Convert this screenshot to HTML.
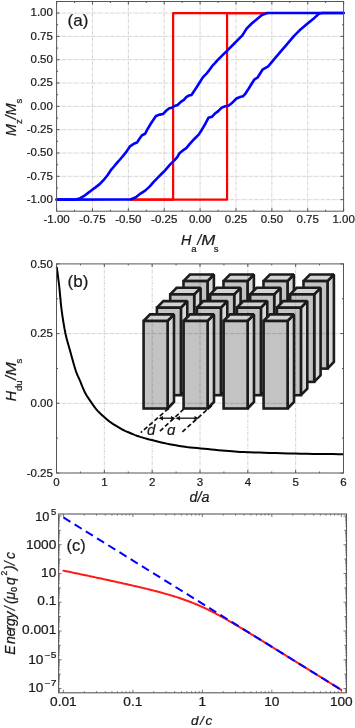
<!DOCTYPE html>
<html><head><meta charset="utf-8"><style>
html,body{margin:0;padding:0;background:#fff;width:355px;height:728px;overflow:hidden;}
svg{display:block;font-family:"Liberation Sans", sans-serif;will-change:transform;}
text{stroke:#1a1a1a;stroke-width:0.22px;}
</style></head><body>
<svg width="355" height="728" viewBox="0 0 355 728" font-family='"Liberation Sans", sans-serif' fill="#1a1a1a"><line x1="92.47" y1="1.50" x2="92.47" y2="211.20" stroke="#cbcbcb" stroke-width="0.9" stroke-dasharray="3,1,1,1"/>
<line x1="128.35" y1="1.50" x2="128.35" y2="211.20" stroke="#cbcbcb" stroke-width="0.9" stroke-dasharray="3,1,1,1"/>
<line x1="164.22" y1="1.50" x2="164.22" y2="211.20" stroke="#cbcbcb" stroke-width="0.9" stroke-dasharray="3,1,1,1"/>
<line x1="200.10" y1="1.50" x2="200.10" y2="211.20" stroke="#cbcbcb" stroke-width="0.9" stroke-dasharray="3,1,1,1"/>
<line x1="235.97" y1="1.50" x2="235.97" y2="211.20" stroke="#cbcbcb" stroke-width="0.9" stroke-dasharray="3,1,1,1"/>
<line x1="271.85" y1="1.50" x2="271.85" y2="211.20" stroke="#cbcbcb" stroke-width="0.9" stroke-dasharray="3,1,1,1"/>
<line x1="307.73" y1="1.50" x2="307.73" y2="211.20" stroke="#cbcbcb" stroke-width="0.9" stroke-dasharray="3,1,1,1"/>
<line x1="56.60" y1="199.65" x2="343.60" y2="199.65" stroke="#cbcbcb" stroke-width="0.9" stroke-dasharray="3,1,1,1"/>
<line x1="56.60" y1="176.32" x2="343.60" y2="176.32" stroke="#cbcbcb" stroke-width="0.9" stroke-dasharray="3,1,1,1"/>
<line x1="56.60" y1="153.00" x2="343.60" y2="153.00" stroke="#cbcbcb" stroke-width="0.9" stroke-dasharray="3,1,1,1"/>
<line x1="56.60" y1="129.67" x2="343.60" y2="129.67" stroke="#cbcbcb" stroke-width="0.9" stroke-dasharray="3,1,1,1"/>
<line x1="56.60" y1="106.35" x2="343.60" y2="106.35" stroke="#cbcbcb" stroke-width="0.9" stroke-dasharray="3,1,1,1"/>
<line x1="56.60" y1="83.02" x2="343.60" y2="83.02" stroke="#cbcbcb" stroke-width="0.9" stroke-dasharray="3,1,1,1"/>
<line x1="56.60" y1="59.70" x2="343.60" y2="59.70" stroke="#cbcbcb" stroke-width="0.9" stroke-dasharray="3,1,1,1"/>
<line x1="56.60" y1="36.38" x2="343.60" y2="36.38" stroke="#cbcbcb" stroke-width="0.9" stroke-dasharray="3,1,1,1"/>
<line x1="56.60" y1="13.05" x2="343.60" y2="13.05" stroke="#cbcbcb" stroke-width="0.9" stroke-dasharray="3,1,1,1"/>
<line x1="56.60" y1="211.20" x2="56.60" y2="208.20" stroke="#555555" stroke-width="1" />
<line x1="56.60" y1="1.50" x2="56.60" y2="4.50" stroke="#555555" stroke-width="1" />
<line x1="74.54" y1="211.20" x2="74.54" y2="209.70" stroke="#555555" stroke-width="1" />
<line x1="74.54" y1="1.50" x2="74.54" y2="3.00" stroke="#555555" stroke-width="1" />
<line x1="92.47" y1="211.20" x2="92.47" y2="208.20" stroke="#555555" stroke-width="1" />
<line x1="92.47" y1="1.50" x2="92.47" y2="4.50" stroke="#555555" stroke-width="1" />
<line x1="110.41" y1="211.20" x2="110.41" y2="209.70" stroke="#555555" stroke-width="1" />
<line x1="110.41" y1="1.50" x2="110.41" y2="3.00" stroke="#555555" stroke-width="1" />
<line x1="128.35" y1="211.20" x2="128.35" y2="208.20" stroke="#555555" stroke-width="1" />
<line x1="128.35" y1="1.50" x2="128.35" y2="4.50" stroke="#555555" stroke-width="1" />
<line x1="146.29" y1="211.20" x2="146.29" y2="209.70" stroke="#555555" stroke-width="1" />
<line x1="146.29" y1="1.50" x2="146.29" y2="3.00" stroke="#555555" stroke-width="1" />
<line x1="164.22" y1="211.20" x2="164.22" y2="208.20" stroke="#555555" stroke-width="1" />
<line x1="164.22" y1="1.50" x2="164.22" y2="4.50" stroke="#555555" stroke-width="1" />
<line x1="182.16" y1="211.20" x2="182.16" y2="209.70" stroke="#555555" stroke-width="1" />
<line x1="182.16" y1="1.50" x2="182.16" y2="3.00" stroke="#555555" stroke-width="1" />
<line x1="200.10" y1="211.20" x2="200.10" y2="208.20" stroke="#555555" stroke-width="1" />
<line x1="200.10" y1="1.50" x2="200.10" y2="4.50" stroke="#555555" stroke-width="1" />
<line x1="218.04" y1="211.20" x2="218.04" y2="209.70" stroke="#555555" stroke-width="1" />
<line x1="218.04" y1="1.50" x2="218.04" y2="3.00" stroke="#555555" stroke-width="1" />
<line x1="235.97" y1="211.20" x2="235.97" y2="208.20" stroke="#555555" stroke-width="1" />
<line x1="235.97" y1="1.50" x2="235.97" y2="4.50" stroke="#555555" stroke-width="1" />
<line x1="253.91" y1="211.20" x2="253.91" y2="209.70" stroke="#555555" stroke-width="1" />
<line x1="253.91" y1="1.50" x2="253.91" y2="3.00" stroke="#555555" stroke-width="1" />
<line x1="271.85" y1="211.20" x2="271.85" y2="208.20" stroke="#555555" stroke-width="1" />
<line x1="271.85" y1="1.50" x2="271.85" y2="4.50" stroke="#555555" stroke-width="1" />
<line x1="289.79" y1="211.20" x2="289.79" y2="209.70" stroke="#555555" stroke-width="1" />
<line x1="289.79" y1="1.50" x2="289.79" y2="3.00" stroke="#555555" stroke-width="1" />
<line x1="307.73" y1="211.20" x2="307.73" y2="208.20" stroke="#555555" stroke-width="1" />
<line x1="307.73" y1="1.50" x2="307.73" y2="4.50" stroke="#555555" stroke-width="1" />
<line x1="325.66" y1="211.20" x2="325.66" y2="209.70" stroke="#555555" stroke-width="1" />
<line x1="325.66" y1="1.50" x2="325.66" y2="3.00" stroke="#555555" stroke-width="1" />
<line x1="343.60" y1="211.20" x2="343.60" y2="208.20" stroke="#555555" stroke-width="1" />
<line x1="343.60" y1="1.50" x2="343.60" y2="4.50" stroke="#555555" stroke-width="1" />
<line x1="56.60" y1="199.65" x2="59.60" y2="199.65" stroke="#555555" stroke-width="1" />
<line x1="343.60" y1="199.65" x2="340.60" y2="199.65" stroke="#555555" stroke-width="1" />
<line x1="56.60" y1="187.99" x2="58.10" y2="187.99" stroke="#555555" stroke-width="1" />
<line x1="343.60" y1="187.99" x2="342.10" y2="187.99" stroke="#555555" stroke-width="1" />
<line x1="56.60" y1="176.32" x2="59.60" y2="176.32" stroke="#555555" stroke-width="1" />
<line x1="343.60" y1="176.32" x2="340.60" y2="176.32" stroke="#555555" stroke-width="1" />
<line x1="56.60" y1="164.66" x2="58.10" y2="164.66" stroke="#555555" stroke-width="1" />
<line x1="343.60" y1="164.66" x2="342.10" y2="164.66" stroke="#555555" stroke-width="1" />
<line x1="56.60" y1="153.00" x2="59.60" y2="153.00" stroke="#555555" stroke-width="1" />
<line x1="343.60" y1="153.00" x2="340.60" y2="153.00" stroke="#555555" stroke-width="1" />
<line x1="56.60" y1="141.34" x2="58.10" y2="141.34" stroke="#555555" stroke-width="1" />
<line x1="343.60" y1="141.34" x2="342.10" y2="141.34" stroke="#555555" stroke-width="1" />
<line x1="56.60" y1="129.67" x2="59.60" y2="129.67" stroke="#555555" stroke-width="1" />
<line x1="343.60" y1="129.67" x2="340.60" y2="129.67" stroke="#555555" stroke-width="1" />
<line x1="56.60" y1="118.01" x2="58.10" y2="118.01" stroke="#555555" stroke-width="1" />
<line x1="343.60" y1="118.01" x2="342.10" y2="118.01" stroke="#555555" stroke-width="1" />
<line x1="56.60" y1="106.35" x2="59.60" y2="106.35" stroke="#555555" stroke-width="1" />
<line x1="343.60" y1="106.35" x2="340.60" y2="106.35" stroke="#555555" stroke-width="1" />
<line x1="56.60" y1="94.69" x2="58.10" y2="94.69" stroke="#555555" stroke-width="1" />
<line x1="343.60" y1="94.69" x2="342.10" y2="94.69" stroke="#555555" stroke-width="1" />
<line x1="56.60" y1="83.02" x2="59.60" y2="83.02" stroke="#555555" stroke-width="1" />
<line x1="343.60" y1="83.02" x2="340.60" y2="83.02" stroke="#555555" stroke-width="1" />
<line x1="56.60" y1="71.36" x2="58.10" y2="71.36" stroke="#555555" stroke-width="1" />
<line x1="343.60" y1="71.36" x2="342.10" y2="71.36" stroke="#555555" stroke-width="1" />
<line x1="56.60" y1="59.70" x2="59.60" y2="59.70" stroke="#555555" stroke-width="1" />
<line x1="343.60" y1="59.70" x2="340.60" y2="59.70" stroke="#555555" stroke-width="1" />
<line x1="56.60" y1="48.04" x2="58.10" y2="48.04" stroke="#555555" stroke-width="1" />
<line x1="343.60" y1="48.04" x2="342.10" y2="48.04" stroke="#555555" stroke-width="1" />
<line x1="56.60" y1="36.38" x2="59.60" y2="36.38" stroke="#555555" stroke-width="1" />
<line x1="343.60" y1="36.38" x2="340.60" y2="36.38" stroke="#555555" stroke-width="1" />
<line x1="56.60" y1="24.71" x2="58.10" y2="24.71" stroke="#555555" stroke-width="1" />
<line x1="343.60" y1="24.71" x2="342.10" y2="24.71" stroke="#555555" stroke-width="1" />
<line x1="56.60" y1="13.05" x2="59.60" y2="13.05" stroke="#555555" stroke-width="1" />
<line x1="343.60" y1="13.05" x2="340.60" y2="13.05" stroke="#555555" stroke-width="1" />
<path d="M268.00,13.05 L173.12,13.05 L173.12,199.65 L131.00,199.65" fill="none" stroke="#ff0000" stroke-width="2.2" stroke-linejoin="round" stroke-linecap="round" />
<path d="M131.00,199.65 L227.08,199.65 L227.08,13.05 L268.00,13.05" fill="none" stroke="#ff0000" stroke-width="2.2" stroke-linejoin="round" stroke-linecap="round" />
<path d="M56.60,199.60 L76.00,199.60 L80.30,198.20 L83.70,196.20 L87.50,193.40 L91.60,190.30 L95.50,187.40 L99.40,184.40 L103.50,180.20 L107.30,175.50 L111.30,169.60 L114.00,166.50 L117.20,162.70 L120.00,159.50 L123.10,155.80 L126.50,151.60 L130.00,146.30 L133.80,143.80 L137.00,142.50 L139.50,138.70 L142.00,135.20 L145.20,133.70 L147.10,129.90 L150.90,123.50 L153.40,119.70 L156.00,115.90 L159.80,114.60 L163.00,114.00 L166.10,110.80 L169.30,108.30 L171.80,107.70 L173.80,106.30 L177.60,105.00 L180.80,101.80 L183.90,99.90 L186.50,96.80 L189.00,95.50 L191.50,94.90 L194.10,91.10 L196.60,87.20 L199.80,82.20 L203.00,77.10 L206.80,73.30 L209.30,70.10 L212.50,65.70 L215.00,63.20 L217.10,60.70 L222.10,55.60 L227.20,50.60 L232.30,45.50 L237.40,40.40 L242.40,35.40 L246.60,28.60 L251.70,23.50 L256.80,19.30 L261.90,15.10 L266.90,13.00 L270.00,13.00 L343.60,13.00" fill="none" stroke="#0000ff" stroke-width="2.6" stroke-linejoin="round" stroke-linecap="round" />
<path d="M56.60,199.60 L130.50,199.50 L135.90,197.30 L140.50,193.60 L145.20,190.60 L149.80,186.40 L153.70,181.80 L157.60,177.90 L161.40,174.00 L165.30,170.20 L170.00,164.70 L174.60,160.10 L177.30,157.20 L179.50,153.20 L182.90,150.40 L186.30,148.20 L189.60,144.20 L192.50,140.80 L195.80,137.50 L198.70,134.60 L200.90,131.30 L203.20,127.30 L205.50,123.50 L208.40,117.80 L211.90,116.80 L215.40,113.20 L218.20,111.10 L221.80,107.60 L225.30,106.20 L228.80,105.50 L232.30,102.70 L236.50,98.50 L240.10,97.00 L242.90,96.30 L245.00,94.20 L248.60,88.70 L254.20,79.70 L257.60,77.50 L262.50,69.70 L268.20,66.30 L273.80,59.60 L280.60,51.70 L287.30,43.80 L294.10,35.90 L300.80,29.20 L307.60,23.50 L314.40,17.90 L318.90,13.70 L322.00,13.00 L343.60,13.00" fill="none" stroke="#0000ff" stroke-width="2.6" stroke-linejoin="round" stroke-linecap="round" />
<rect x="56.6" y="1.5" width="287.0" height="209.7" fill="none" stroke="#555555" stroke-width="1"/>
<text x="52.90" y="16.45" font-size="11.5" text-anchor="end" >1.00</text>
<text x="52.90" y="39.77" font-size="11.5" text-anchor="end" >0.75</text>
<text x="52.90" y="63.10" font-size="11.5" text-anchor="end" >0.50</text>
<text x="52.90" y="86.42" font-size="11.5" text-anchor="end" >0.25</text>
<text x="52.90" y="109.75" font-size="11.5" text-anchor="end" >0.00</text>
<text x="52.90" y="133.07" font-size="11.5" text-anchor="end" >-0.25</text>
<text x="52.90" y="156.40" font-size="11.5" text-anchor="end" >-0.50</text>
<text x="52.90" y="179.72" font-size="11.5" text-anchor="end" >-0.75</text>
<text x="52.90" y="203.05" font-size="11.5" text-anchor="end" >-1.00</text>
<text x="56.60" y="222.60" font-size="11.5" text-anchor="middle" >-1.00</text>
<text x="92.47" y="222.60" font-size="11.5" text-anchor="middle" >-0.75</text>
<text x="128.35" y="222.60" font-size="11.5" text-anchor="middle" >-0.50</text>
<text x="164.22" y="222.60" font-size="11.5" text-anchor="middle" >-0.25</text>
<text x="200.10" y="222.60" font-size="11.5" text-anchor="middle" >0.00</text>
<text x="235.97" y="222.60" font-size="11.5" text-anchor="middle" >0.25</text>
<text x="271.85" y="222.60" font-size="11.5" text-anchor="middle" >0.50</text>
<text x="307.73" y="222.60" font-size="11.5" text-anchor="middle" >0.75</text>
<text x="343.60" y="222.60" font-size="11.5" text-anchor="middle" >1.00</text>
<text x="67.60" y="25.90" font-size="17" text-anchor="start" >(a)</text>
<text x="181" y="245.2" font-size="14.3" font-style="italic">H<tspan font-size="9.5" font-style="normal" dy="6.8">a</tspan><tspan dy="-6.8" dx="0.6">/</tspan><tspan textLength="14" lengthAdjust="spacingAndGlyphs">M</tspan><tspan font-size="9.5" font-style="normal" dy="6.8" dx="-1.4">s</tspan></text>
<text transform="translate(15.6,136) rotate(-90)" font-size="14.3" font-style="italic">M<tspan font-size="9.5" font-style="normal" dy="6.6">z</tspan><tspan dy="-6.6">/M</tspan><tspan font-size="9.5" font-style="normal" dy="6.6">s</tspan></text>
<polygon points="327.50,281.10 333.90,274.50 333.90,362.00 327.50,368.60" fill="#d6d6d6" stroke="#1c1c1c" stroke-width="2.6" stroke-linejoin="miter" stroke-miterlimit="1.5"/>
<polygon points="303.50,281.10 309.90,274.50 333.90,274.50 327.50,281.10" fill="#d3d3d3" stroke="#1c1c1c" stroke-width="2.6" stroke-linejoin="miter" stroke-miterlimit="1.5"/>
<rect x="303.50" y="281.10" width="24.0" height="87.5" fill="#c3c3c3" stroke="#1c1c1c" stroke-width="2.6"/>
<polygon points="287.50,281.10 293.90,274.50 293.90,362.00 287.50,368.60" fill="#d6d6d6" stroke="#1c1c1c" stroke-width="2.6" stroke-linejoin="miter" stroke-miterlimit="1.5"/>
<polygon points="263.50,281.10 269.90,274.50 293.90,274.50 287.50,281.10" fill="#d3d3d3" stroke="#1c1c1c" stroke-width="2.6" stroke-linejoin="miter" stroke-miterlimit="1.5"/>
<rect x="263.50" y="281.10" width="24.0" height="87.5" fill="#c3c3c3" stroke="#1c1c1c" stroke-width="2.6"/>
<polygon points="247.50,281.10 253.90,274.50 253.90,362.00 247.50,368.60" fill="#d6d6d6" stroke="#1c1c1c" stroke-width="2.6" stroke-linejoin="miter" stroke-miterlimit="1.5"/>
<polygon points="223.50,281.10 229.90,274.50 253.90,274.50 247.50,281.10" fill="#d3d3d3" stroke="#1c1c1c" stroke-width="2.6" stroke-linejoin="miter" stroke-miterlimit="1.5"/>
<rect x="223.50" y="281.10" width="24.0" height="87.5" fill="#c3c3c3" stroke="#1c1c1c" stroke-width="2.6"/>
<polygon points="207.50,281.10 213.90,274.50 213.90,362.00 207.50,368.60" fill="#d6d6d6" stroke="#1c1c1c" stroke-width="2.6" stroke-linejoin="miter" stroke-miterlimit="1.5"/>
<polygon points="183.50,281.10 189.90,274.50 213.90,274.50 207.50,281.10" fill="#d3d3d3" stroke="#1c1c1c" stroke-width="2.6" stroke-linejoin="miter" stroke-miterlimit="1.5"/>
<rect x="183.50" y="281.10" width="24.0" height="87.5" fill="#c3c3c3" stroke="#1c1c1c" stroke-width="2.6"/>
<polygon points="314.20,294.40 320.60,287.80 320.60,375.30 314.20,381.90" fill="#d6d6d6" stroke="#1c1c1c" stroke-width="2.6" stroke-linejoin="miter" stroke-miterlimit="1.5"/>
<polygon points="290.20,294.40 296.60,287.80 320.60,287.80 314.20,294.40" fill="#d3d3d3" stroke="#1c1c1c" stroke-width="2.6" stroke-linejoin="miter" stroke-miterlimit="1.5"/>
<rect x="290.20" y="294.40" width="24.0" height="87.5" fill="#c3c3c3" stroke="#1c1c1c" stroke-width="2.6"/>
<polygon points="274.20,294.40 280.60,287.80 280.60,375.30 274.20,381.90" fill="#d6d6d6" stroke="#1c1c1c" stroke-width="2.6" stroke-linejoin="miter" stroke-miterlimit="1.5"/>
<polygon points="250.20,294.40 256.60,287.80 280.60,287.80 274.20,294.40" fill="#d3d3d3" stroke="#1c1c1c" stroke-width="2.6" stroke-linejoin="miter" stroke-miterlimit="1.5"/>
<rect x="250.20" y="294.40" width="24.0" height="87.5" fill="#c3c3c3" stroke="#1c1c1c" stroke-width="2.6"/>
<polygon points="234.20,294.40 240.60,287.80 240.60,375.30 234.20,381.90" fill="#d6d6d6" stroke="#1c1c1c" stroke-width="2.6" stroke-linejoin="miter" stroke-miterlimit="1.5"/>
<polygon points="210.20,294.40 216.60,287.80 240.60,287.80 234.20,294.40" fill="#d3d3d3" stroke="#1c1c1c" stroke-width="2.6" stroke-linejoin="miter" stroke-miterlimit="1.5"/>
<rect x="210.20" y="294.40" width="24.0" height="87.5" fill="#c3c3c3" stroke="#1c1c1c" stroke-width="2.6"/>
<polygon points="194.20,294.40 200.60,287.80 200.60,375.30 194.20,381.90" fill="#d6d6d6" stroke="#1c1c1c" stroke-width="2.6" stroke-linejoin="miter" stroke-miterlimit="1.5"/>
<polygon points="170.20,294.40 176.60,287.80 200.60,287.80 194.20,294.40" fill="#d3d3d3" stroke="#1c1c1c" stroke-width="2.6" stroke-linejoin="miter" stroke-miterlimit="1.5"/>
<rect x="170.20" y="294.40" width="24.0" height="87.5" fill="#c3c3c3" stroke="#1c1c1c" stroke-width="2.6"/>
<polygon points="300.90,307.70 307.30,301.10 307.30,388.60 300.90,395.20" fill="#d6d6d6" stroke="#1c1c1c" stroke-width="2.6" stroke-linejoin="miter" stroke-miterlimit="1.5"/>
<polygon points="276.90,307.70 283.30,301.10 307.30,301.10 300.90,307.70" fill="#d3d3d3" stroke="#1c1c1c" stroke-width="2.6" stroke-linejoin="miter" stroke-miterlimit="1.5"/>
<rect x="276.90" y="307.70" width="24.0" height="87.5" fill="#c3c3c3" stroke="#1c1c1c" stroke-width="2.6"/>
<polygon points="260.90,307.70 267.30,301.10 267.30,388.60 260.90,395.20" fill="#d6d6d6" stroke="#1c1c1c" stroke-width="2.6" stroke-linejoin="miter" stroke-miterlimit="1.5"/>
<polygon points="236.90,307.70 243.30,301.10 267.30,301.10 260.90,307.70" fill="#d3d3d3" stroke="#1c1c1c" stroke-width="2.6" stroke-linejoin="miter" stroke-miterlimit="1.5"/>
<rect x="236.90" y="307.70" width="24.0" height="87.5" fill="#c3c3c3" stroke="#1c1c1c" stroke-width="2.6"/>
<polygon points="220.90,307.70 227.30,301.10 227.30,388.60 220.90,395.20" fill="#d6d6d6" stroke="#1c1c1c" stroke-width="2.6" stroke-linejoin="miter" stroke-miterlimit="1.5"/>
<polygon points="196.90,307.70 203.30,301.10 227.30,301.10 220.90,307.70" fill="#d3d3d3" stroke="#1c1c1c" stroke-width="2.6" stroke-linejoin="miter" stroke-miterlimit="1.5"/>
<rect x="196.90" y="307.70" width="24.0" height="87.5" fill="#c3c3c3" stroke="#1c1c1c" stroke-width="2.6"/>
<polygon points="180.90,307.70 187.30,301.10 187.30,388.60 180.90,395.20" fill="#d6d6d6" stroke="#1c1c1c" stroke-width="2.6" stroke-linejoin="miter" stroke-miterlimit="1.5"/>
<polygon points="156.90,307.70 163.30,301.10 187.30,301.10 180.90,307.70" fill="#d3d3d3" stroke="#1c1c1c" stroke-width="2.6" stroke-linejoin="miter" stroke-miterlimit="1.5"/>
<rect x="156.90" y="307.70" width="24.0" height="87.5" fill="#c3c3c3" stroke="#1c1c1c" stroke-width="2.6"/>
<polygon points="287.60,321.00 294.00,314.40 294.00,401.90 287.60,408.50" fill="#d6d6d6" stroke="#1c1c1c" stroke-width="2.6" stroke-linejoin="miter" stroke-miterlimit="1.5"/>
<polygon points="263.60,321.00 270.00,314.40 294.00,314.40 287.60,321.00" fill="#d3d3d3" stroke="#1c1c1c" stroke-width="2.6" stroke-linejoin="miter" stroke-miterlimit="1.5"/>
<rect x="263.60" y="321.00" width="24.0" height="87.5" fill="#c3c3c3" stroke="#1c1c1c" stroke-width="2.6"/>
<polygon points="247.60,321.00 254.00,314.40 254.00,401.90 247.60,408.50" fill="#d6d6d6" stroke="#1c1c1c" stroke-width="2.6" stroke-linejoin="miter" stroke-miterlimit="1.5"/>
<polygon points="223.60,321.00 230.00,314.40 254.00,314.40 247.60,321.00" fill="#d3d3d3" stroke="#1c1c1c" stroke-width="2.6" stroke-linejoin="miter" stroke-miterlimit="1.5"/>
<rect x="223.60" y="321.00" width="24.0" height="87.5" fill="#c3c3c3" stroke="#1c1c1c" stroke-width="2.6"/>
<polygon points="207.60,321.00 214.00,314.40 214.00,401.90 207.60,408.50" fill="#d6d6d6" stroke="#1c1c1c" stroke-width="2.6" stroke-linejoin="miter" stroke-miterlimit="1.5"/>
<polygon points="183.60,321.00 190.00,314.40 214.00,314.40 207.60,321.00" fill="#d3d3d3" stroke="#1c1c1c" stroke-width="2.6" stroke-linejoin="miter" stroke-miterlimit="1.5"/>
<rect x="183.60" y="321.00" width="24.0" height="87.5" fill="#c3c3c3" stroke="#1c1c1c" stroke-width="2.6"/>
<polygon points="167.60,321.00 174.00,314.40 174.00,401.90 167.60,408.50" fill="#d6d6d6" stroke="#1c1c1c" stroke-width="2.6" stroke-linejoin="miter" stroke-miterlimit="1.5"/>
<polygon points="143.60,321.00 150.00,314.40 174.00,314.40 167.60,321.00" fill="#d3d3d3" stroke="#1c1c1c" stroke-width="2.6" stroke-linejoin="miter" stroke-miterlimit="1.5"/>
<rect x="143.60" y="321.00" width="24.0" height="87.5" fill="#c3c3c3" stroke="#1c1c1c" stroke-width="2.6"/>
<line x1="104.33" y1="263.90" x2="104.33" y2="473.00" stroke="#cbcbcb" stroke-width="0.9" stroke-dasharray="3,1,1,1" style="mix-blend-mode:multiply"/>
<line x1="152.17" y1="263.90" x2="152.17" y2="473.00" stroke="#cbcbcb" stroke-width="0.9" stroke-dasharray="3,1,1,1" style="mix-blend-mode:multiply"/>
<line x1="200.00" y1="263.90" x2="200.00" y2="473.00" stroke="#cbcbcb" stroke-width="0.9" stroke-dasharray="3,1,1,1" style="mix-blend-mode:multiply"/>
<line x1="247.83" y1="263.90" x2="247.83" y2="473.00" stroke="#cbcbcb" stroke-width="0.9" stroke-dasharray="3,1,1,1" style="mix-blend-mode:multiply"/>
<line x1="295.67" y1="263.90" x2="295.67" y2="473.00" stroke="#cbcbcb" stroke-width="0.9" stroke-dasharray="3,1,1,1" style="mix-blend-mode:multiply"/>
<line x1="56.50" y1="333.60" x2="343.50" y2="333.60" stroke="#cbcbcb" stroke-width="0.9" stroke-dasharray="3,1,1,1" style="mix-blend-mode:multiply"/>
<line x1="56.50" y1="403.30" x2="343.50" y2="403.30" stroke="#cbcbcb" stroke-width="0.9" stroke-dasharray="3,1,1,1" style="mix-blend-mode:multiply"/>
<line x1="56.50" y1="473.00" x2="56.50" y2="470.00" stroke="#555555" stroke-width="1" />
<line x1="56.50" y1="263.90" x2="56.50" y2="266.90" stroke="#555555" stroke-width="1" />
<line x1="80.42" y1="473.00" x2="80.42" y2="471.50" stroke="#555555" stroke-width="1" />
<line x1="80.42" y1="263.90" x2="80.42" y2="265.40" stroke="#555555" stroke-width="1" />
<line x1="104.33" y1="473.00" x2="104.33" y2="470.00" stroke="#555555" stroke-width="1" />
<line x1="104.33" y1="263.90" x2="104.33" y2="266.90" stroke="#555555" stroke-width="1" />
<line x1="128.25" y1="473.00" x2="128.25" y2="471.50" stroke="#555555" stroke-width="1" />
<line x1="128.25" y1="263.90" x2="128.25" y2="265.40" stroke="#555555" stroke-width="1" />
<line x1="152.17" y1="473.00" x2="152.17" y2="470.00" stroke="#555555" stroke-width="1" />
<line x1="152.17" y1="263.90" x2="152.17" y2="266.90" stroke="#555555" stroke-width="1" />
<line x1="176.08" y1="473.00" x2="176.08" y2="471.50" stroke="#555555" stroke-width="1" />
<line x1="176.08" y1="263.90" x2="176.08" y2="265.40" stroke="#555555" stroke-width="1" />
<line x1="200.00" y1="473.00" x2="200.00" y2="470.00" stroke="#555555" stroke-width="1" />
<line x1="200.00" y1="263.90" x2="200.00" y2="266.90" stroke="#555555" stroke-width="1" />
<line x1="223.92" y1="473.00" x2="223.92" y2="471.50" stroke="#555555" stroke-width="1" />
<line x1="223.92" y1="263.90" x2="223.92" y2="265.40" stroke="#555555" stroke-width="1" />
<line x1="247.83" y1="473.00" x2="247.83" y2="470.00" stroke="#555555" stroke-width="1" />
<line x1="247.83" y1="263.90" x2="247.83" y2="266.90" stroke="#555555" stroke-width="1" />
<line x1="271.75" y1="473.00" x2="271.75" y2="471.50" stroke="#555555" stroke-width="1" />
<line x1="271.75" y1="263.90" x2="271.75" y2="265.40" stroke="#555555" stroke-width="1" />
<line x1="295.67" y1="473.00" x2="295.67" y2="470.00" stroke="#555555" stroke-width="1" />
<line x1="295.67" y1="263.90" x2="295.67" y2="266.90" stroke="#555555" stroke-width="1" />
<line x1="319.58" y1="473.00" x2="319.58" y2="471.50" stroke="#555555" stroke-width="1" />
<line x1="319.58" y1="263.90" x2="319.58" y2="265.40" stroke="#555555" stroke-width="1" />
<line x1="343.50" y1="473.00" x2="343.50" y2="470.00" stroke="#555555" stroke-width="1" />
<line x1="343.50" y1="263.90" x2="343.50" y2="266.90" stroke="#555555" stroke-width="1" />
<line x1="56.50" y1="263.90" x2="59.50" y2="263.90" stroke="#555555" stroke-width="1" />
<line x1="343.50" y1="263.90" x2="340.50" y2="263.90" stroke="#555555" stroke-width="1" />
<line x1="56.50" y1="298.75" x2="58.00" y2="298.75" stroke="#555555" stroke-width="1" />
<line x1="343.50" y1="298.75" x2="342.00" y2="298.75" stroke="#555555" stroke-width="1" />
<line x1="56.50" y1="333.60" x2="59.50" y2="333.60" stroke="#555555" stroke-width="1" />
<line x1="343.50" y1="333.60" x2="340.50" y2="333.60" stroke="#555555" stroke-width="1" />
<line x1="56.50" y1="368.45" x2="58.00" y2="368.45" stroke="#555555" stroke-width="1" />
<line x1="343.50" y1="368.45" x2="342.00" y2="368.45" stroke="#555555" stroke-width="1" />
<line x1="56.50" y1="403.30" x2="59.50" y2="403.30" stroke="#555555" stroke-width="1" />
<line x1="343.50" y1="403.30" x2="340.50" y2="403.30" stroke="#555555" stroke-width="1" />
<line x1="56.50" y1="438.15" x2="58.00" y2="438.15" stroke="#555555" stroke-width="1" />
<line x1="343.50" y1="438.15" x2="342.00" y2="438.15" stroke="#555555" stroke-width="1" />
<line x1="56.50" y1="473.00" x2="59.50" y2="473.00" stroke="#555555" stroke-width="1" />
<line x1="343.50" y1="473.00" x2="340.50" y2="473.00" stroke="#555555" stroke-width="1" />
<line x1="168.50" y1="408.50" x2="140.80" y2="432.60" stroke="#111" stroke-width="1.7" stroke-dasharray="4.5,2.5"/>
<line x1="183.80" y1="409.00" x2="158.30" y2="432.60" stroke="#111" stroke-width="1.7" stroke-dasharray="4.5,2.5"/>
<line x1="211.80" y1="405.50" x2="181.50" y2="432.60" stroke="#111" stroke-width="1.7" stroke-dasharray="4.5,2.5"/>
<line x1="160.50" y1="418.20" x2="173.50" y2="418.20" stroke="#111" stroke-width="1.3" />
<polygon points="158.50,418.20 163.00,416.00 163.00,420.40" fill="#111"/>
<polygon points="175.50,418.20 171.00,416.00 171.00,420.40" fill="#111"/>
<line x1="177.50" y1="418.20" x2="197.00" y2="418.20" stroke="#111" stroke-width="1.3" />
<polygon points="175.50,418.20 180.00,416.00 180.00,420.40" fill="#111"/>
<polygon points="199.00,418.20 194.50,416.00 194.50,420.40" fill="#111"/>
<text x="147.0" y="435.0" font-size="15" font-style="italic">d</text>
<text x="167.0" y="435.0" font-size="15" font-style="italic">&#593;</text>
<path d="M56.80,267.50 L57.23,270.70 L57.85,275.25 L58.54,280.55 L59.20,286.00 L59.76,291.62 L60.31,297.68 L60.89,303.89 L61.60,310.00 L62.44,316.07 L63.39,322.19 L64.41,328.14 L65.50,333.70 L66.67,338.71 L67.91,343.32 L69.20,347.78 L70.50,352.30 L71.84,357.15 L73.23,362.15 L74.57,366.85 L75.80,370.80 L76.86,373.73 L77.82,375.93 L78.71,377.81 L79.60,379.80 L80.49,381.99 L81.34,384.16 L82.18,386.25 L83.00,388.20 L83.76,389.93 L84.48,391.50 L85.23,393.02 L86.10,394.60 L87.10,396.25 L88.19,397.91 L89.36,399.61 L90.60,401.40 L91.92,403.33 L93.31,405.36 L94.78,407.38 L96.30,409.30 L97.90,411.08 L99.58,412.79 L101.29,414.42 L103.00,416.00 L104.69,417.52 L106.39,418.99 L108.10,420.38 L109.80,421.70 L111.50,422.93 L113.21,424.07 L114.91,425.15 L116.60,426.20 L118.28,427.22 L119.95,428.19 L121.62,429.12 L123.30,430.00 L125.00,430.81 L126.70,431.57 L128.40,432.29 L130.10,433.00 L131.78,433.71 L133.45,434.40 L135.12,435.07 L136.80,435.70 L138.49,436.29 L140.19,436.86 L141.90,437.39 L143.60,437.90 L145.20,438.35 L146.74,438.76 L148.41,439.19 L150.40,439.70 L152.83,440.34 L155.58,441.07 L158.46,441.82 L161.30,442.50 L164.01,443.09 L166.70,443.63 L169.49,444.16 L172.50,444.70 L175.82,445.29 L179.37,445.90 L183.01,446.49 L186.60,447.00 L190.12,447.41 L193.65,447.76 L197.17,448.07 L200.70,448.40 L204.22,448.75 L207.75,449.11 L211.28,449.46 L214.80,449.80 L218.39,450.14 L222.03,450.49 L225.58,450.81 L228.90,451.10 L231.93,451.34 L234.76,451.56 L237.46,451.74 L240.10,451.90 L242.43,452.02 L244.51,452.11 L246.86,452.20 L250.00,452.30 L254.14,452.43 L258.97,452.58 L264.27,452.74 L269.80,452.90 L275.65,453.07 L281.89,453.26 L288.28,453.44 L294.60,453.60 L300.84,453.73 L307.10,453.83 L313.31,453.92 L319.40,454.00 L325.86,454.07 L332.55,454.12 L338.47,454.17 L342.60,454.20" fill="none" stroke="#000" stroke-width="2.0" stroke-linejoin="round" stroke-linecap="round" />
<rect x="56.5" y="263.9" width="287.0" height="209.10000000000002" fill="none" stroke="#555555" stroke-width="1"/>
<text x="52.90" y="267.70" font-size="11.5" text-anchor="end" >0.50</text>
<text x="52.90" y="337.40" font-size="11.5" text-anchor="end" >0.25</text>
<text x="52.90" y="407.10" font-size="11.5" text-anchor="end" >0.00</text>
<text x="52.90" y="476.80" font-size="11.5" text-anchor="end" >-0.25</text>
<text x="56.50" y="486.40" font-size="11.5" text-anchor="middle" >0</text>
<text x="104.33" y="486.40" font-size="11.5" text-anchor="middle" >1</text>
<text x="152.17" y="486.40" font-size="11.5" text-anchor="middle" >2</text>
<text x="200.00" y="486.40" font-size="11.5" text-anchor="middle" >3</text>
<text x="247.83" y="486.40" font-size="11.5" text-anchor="middle" >4</text>
<text x="295.67" y="486.40" font-size="11.5" text-anchor="middle" >5</text>
<text x="343.50" y="486.40" font-size="11.5" text-anchor="middle" >6</text>
<text x="67.60" y="287.00" font-size="17" text-anchor="start" >(b)</text>
<text x="189.6" y="502.4" font-size="14.3" font-style="italic">d/a</text>
<text transform="translate(15.6,401.3) rotate(-90)" font-size="14.3" font-style="italic">H<tspan font-size="9.5" font-style="normal" dy="6.6">du</tspan><tspan dy="-6.6" dx="0.6">/</tspan><tspan textLength="13.6" lengthAdjust="spacingAndGlyphs">M</tspan><tspan font-size="9.5" font-style="normal" dy="6.6" dx="-1.2">s</tspan></text>
<line x1="63.39" y1="692.80" x2="63.39" y2="689.80" stroke="#555" stroke-width="0.8" />
<line x1="63.39" y1="514.00" x2="63.39" y2="517.00" stroke="#555" stroke-width="0.8" />
<line x1="84.31" y1="692.80" x2="84.31" y2="691.20" stroke="#555" stroke-width="0.8" />
<line x1="84.31" y1="514.00" x2="84.31" y2="515.60" stroke="#555" stroke-width="0.8" />
<line x1="96.54" y1="692.80" x2="96.54" y2="691.20" stroke="#555" stroke-width="0.8" />
<line x1="96.54" y1="514.00" x2="96.54" y2="515.60" stroke="#555" stroke-width="0.8" />
<line x1="105.22" y1="692.80" x2="105.22" y2="691.20" stroke="#555" stroke-width="0.8" />
<line x1="105.22" y1="514.00" x2="105.22" y2="515.60" stroke="#555" stroke-width="0.8" />
<line x1="111.95" y1="692.80" x2="111.95" y2="691.20" stroke="#555" stroke-width="0.8" />
<line x1="111.95" y1="514.00" x2="111.95" y2="515.60" stroke="#555" stroke-width="0.8" />
<line x1="117.46" y1="692.80" x2="117.46" y2="691.20" stroke="#555" stroke-width="0.8" />
<line x1="117.46" y1="514.00" x2="117.46" y2="515.60" stroke="#555" stroke-width="0.8" />
<line x1="122.11" y1="692.80" x2="122.11" y2="691.20" stroke="#555" stroke-width="0.8" />
<line x1="122.11" y1="514.00" x2="122.11" y2="515.60" stroke="#555" stroke-width="0.8" />
<line x1="126.14" y1="692.80" x2="126.14" y2="691.20" stroke="#555" stroke-width="0.8" />
<line x1="126.14" y1="514.00" x2="126.14" y2="515.60" stroke="#555" stroke-width="0.8" />
<line x1="129.69" y1="692.80" x2="129.69" y2="691.20" stroke="#555" stroke-width="0.8" />
<line x1="129.69" y1="514.00" x2="129.69" y2="515.60" stroke="#555" stroke-width="0.8" />
<line x1="132.87" y1="692.80" x2="132.87" y2="689.80" stroke="#555" stroke-width="0.8" />
<line x1="132.87" y1="514.00" x2="132.87" y2="517.00" stroke="#555" stroke-width="0.8" />
<line x1="153.79" y1="692.80" x2="153.79" y2="691.20" stroke="#555" stroke-width="0.8" />
<line x1="153.79" y1="514.00" x2="153.79" y2="515.60" stroke="#555" stroke-width="0.8" />
<line x1="166.02" y1="692.80" x2="166.02" y2="691.20" stroke="#555" stroke-width="0.8" />
<line x1="166.02" y1="514.00" x2="166.02" y2="515.60" stroke="#555" stroke-width="0.8" />
<line x1="174.70" y1="692.80" x2="174.70" y2="691.20" stroke="#555" stroke-width="0.8" />
<line x1="174.70" y1="514.00" x2="174.70" y2="515.60" stroke="#555" stroke-width="0.8" />
<line x1="181.43" y1="692.80" x2="181.43" y2="691.20" stroke="#555" stroke-width="0.8" />
<line x1="181.43" y1="514.00" x2="181.43" y2="515.60" stroke="#555" stroke-width="0.8" />
<line x1="186.94" y1="692.80" x2="186.94" y2="691.20" stroke="#555" stroke-width="0.8" />
<line x1="186.94" y1="514.00" x2="186.94" y2="515.60" stroke="#555" stroke-width="0.8" />
<line x1="191.59" y1="692.80" x2="191.59" y2="691.20" stroke="#555" stroke-width="0.8" />
<line x1="191.59" y1="514.00" x2="191.59" y2="515.60" stroke="#555" stroke-width="0.8" />
<line x1="195.62" y1="692.80" x2="195.62" y2="691.20" stroke="#555" stroke-width="0.8" />
<line x1="195.62" y1="514.00" x2="195.62" y2="515.60" stroke="#555" stroke-width="0.8" />
<line x1="199.17" y1="692.80" x2="199.17" y2="691.20" stroke="#555" stroke-width="0.8" />
<line x1="199.17" y1="514.00" x2="199.17" y2="515.60" stroke="#555" stroke-width="0.8" />
<line x1="202.35" y1="692.80" x2="202.35" y2="689.80" stroke="#555" stroke-width="0.8" />
<line x1="202.35" y1="514.00" x2="202.35" y2="517.00" stroke="#555" stroke-width="0.8" />
<line x1="223.27" y1="692.80" x2="223.27" y2="691.20" stroke="#555" stroke-width="0.8" />
<line x1="223.27" y1="514.00" x2="223.27" y2="515.60" stroke="#555" stroke-width="0.8" />
<line x1="235.50" y1="692.80" x2="235.50" y2="691.20" stroke="#555" stroke-width="0.8" />
<line x1="235.50" y1="514.00" x2="235.50" y2="515.60" stroke="#555" stroke-width="0.8" />
<line x1="244.18" y1="692.80" x2="244.18" y2="691.20" stroke="#555" stroke-width="0.8" />
<line x1="244.18" y1="514.00" x2="244.18" y2="515.60" stroke="#555" stroke-width="0.8" />
<line x1="250.91" y1="692.80" x2="250.91" y2="691.20" stroke="#555" stroke-width="0.8" />
<line x1="250.91" y1="514.00" x2="250.91" y2="515.60" stroke="#555" stroke-width="0.8" />
<line x1="256.42" y1="692.80" x2="256.42" y2="691.20" stroke="#555" stroke-width="0.8" />
<line x1="256.42" y1="514.00" x2="256.42" y2="515.60" stroke="#555" stroke-width="0.8" />
<line x1="261.07" y1="692.80" x2="261.07" y2="691.20" stroke="#555" stroke-width="0.8" />
<line x1="261.07" y1="514.00" x2="261.07" y2="515.60" stroke="#555" stroke-width="0.8" />
<line x1="265.10" y1="692.80" x2="265.10" y2="691.20" stroke="#555" stroke-width="0.8" />
<line x1="265.10" y1="514.00" x2="265.10" y2="515.60" stroke="#555" stroke-width="0.8" />
<line x1="268.65" y1="692.80" x2="268.65" y2="691.20" stroke="#555" stroke-width="0.8" />
<line x1="268.65" y1="514.00" x2="268.65" y2="515.60" stroke="#555" stroke-width="0.8" />
<line x1="271.83" y1="692.80" x2="271.83" y2="689.80" stroke="#555" stroke-width="0.8" />
<line x1="271.83" y1="514.00" x2="271.83" y2="517.00" stroke="#555" stroke-width="0.8" />
<line x1="292.75" y1="692.80" x2="292.75" y2="691.20" stroke="#555" stroke-width="0.8" />
<line x1="292.75" y1="514.00" x2="292.75" y2="515.60" stroke="#555" stroke-width="0.8" />
<line x1="304.98" y1="692.80" x2="304.98" y2="691.20" stroke="#555" stroke-width="0.8" />
<line x1="304.98" y1="514.00" x2="304.98" y2="515.60" stroke="#555" stroke-width="0.8" />
<line x1="313.66" y1="692.80" x2="313.66" y2="691.20" stroke="#555" stroke-width="0.8" />
<line x1="313.66" y1="514.00" x2="313.66" y2="515.60" stroke="#555" stroke-width="0.8" />
<line x1="320.39" y1="692.80" x2="320.39" y2="691.20" stroke="#555" stroke-width="0.8" />
<line x1="320.39" y1="514.00" x2="320.39" y2="515.60" stroke="#555" stroke-width="0.8" />
<line x1="325.90" y1="692.80" x2="325.90" y2="691.20" stroke="#555" stroke-width="0.8" />
<line x1="325.90" y1="514.00" x2="325.90" y2="515.60" stroke="#555" stroke-width="0.8" />
<line x1="330.55" y1="692.80" x2="330.55" y2="691.20" stroke="#555" stroke-width="0.8" />
<line x1="330.55" y1="514.00" x2="330.55" y2="515.60" stroke="#555" stroke-width="0.8" />
<line x1="334.58" y1="692.80" x2="334.58" y2="691.20" stroke="#555" stroke-width="0.8" />
<line x1="334.58" y1="514.00" x2="334.58" y2="515.60" stroke="#555" stroke-width="0.8" />
<line x1="338.13" y1="692.80" x2="338.13" y2="691.20" stroke="#555" stroke-width="0.8" />
<line x1="338.13" y1="514.00" x2="338.13" y2="515.60" stroke="#555" stroke-width="0.8" />
<line x1="341.31" y1="692.80" x2="341.31" y2="689.80" stroke="#555" stroke-width="0.8" />
<line x1="341.31" y1="514.00" x2="341.31" y2="517.00" stroke="#555" stroke-width="0.8" />
<line x1="58.60" y1="691.66" x2="59.80" y2="691.66" stroke="#555" stroke-width="0.8" />
<line x1="346.50" y1="691.66" x2="345.30" y2="691.66" stroke="#555" stroke-width="0.8" />
<line x1="58.60" y1="690.70" x2="59.80" y2="690.70" stroke="#555" stroke-width="0.8" />
<line x1="346.50" y1="690.70" x2="345.30" y2="690.70" stroke="#555" stroke-width="0.8" />
<line x1="58.60" y1="689.87" x2="59.80" y2="689.87" stroke="#555" stroke-width="0.8" />
<line x1="346.50" y1="689.87" x2="345.30" y2="689.87" stroke="#555" stroke-width="0.8" />
<line x1="58.60" y1="689.13" x2="59.80" y2="689.13" stroke="#555" stroke-width="0.8" />
<line x1="346.50" y1="689.13" x2="345.30" y2="689.13" stroke="#555" stroke-width="0.8" />
<line x1="58.60" y1="688.48" x2="61.60" y2="688.48" stroke="#555" stroke-width="0.8" />
<line x1="346.50" y1="688.48" x2="343.50" y2="688.48" stroke="#555" stroke-width="0.8" />
<line x1="58.60" y1="684.15" x2="59.80" y2="684.15" stroke="#555" stroke-width="0.8" />
<line x1="346.50" y1="684.15" x2="345.30" y2="684.15" stroke="#555" stroke-width="0.8" />
<line x1="58.60" y1="681.62" x2="59.80" y2="681.62" stroke="#555" stroke-width="0.8" />
<line x1="346.50" y1="681.62" x2="345.30" y2="681.62" stroke="#555" stroke-width="0.8" />
<line x1="58.60" y1="679.82" x2="59.80" y2="679.82" stroke="#555" stroke-width="0.8" />
<line x1="346.50" y1="679.82" x2="345.30" y2="679.82" stroke="#555" stroke-width="0.8" />
<line x1="58.60" y1="678.43" x2="59.80" y2="678.43" stroke="#555" stroke-width="0.8" />
<line x1="346.50" y1="678.43" x2="345.30" y2="678.43" stroke="#555" stroke-width="0.8" />
<line x1="58.60" y1="677.29" x2="59.80" y2="677.29" stroke="#555" stroke-width="0.8" />
<line x1="346.50" y1="677.29" x2="345.30" y2="677.29" stroke="#555" stroke-width="0.8" />
<line x1="58.60" y1="676.33" x2="59.80" y2="676.33" stroke="#555" stroke-width="0.8" />
<line x1="346.50" y1="676.33" x2="345.30" y2="676.33" stroke="#555" stroke-width="0.8" />
<line x1="58.60" y1="675.49" x2="59.80" y2="675.49" stroke="#555" stroke-width="0.8" />
<line x1="346.50" y1="675.49" x2="345.30" y2="675.49" stroke="#555" stroke-width="0.8" />
<line x1="58.60" y1="674.76" x2="59.80" y2="674.76" stroke="#555" stroke-width="0.8" />
<line x1="346.50" y1="674.76" x2="345.30" y2="674.76" stroke="#555" stroke-width="0.8" />
<line x1="58.60" y1="674.10" x2="60.80" y2="674.10" stroke="#555" stroke-width="0.8" />
<line x1="346.50" y1="674.10" x2="344.30" y2="674.10" stroke="#555" stroke-width="0.8" />
<line x1="58.60" y1="669.77" x2="59.80" y2="669.77" stroke="#555" stroke-width="0.8" />
<line x1="346.50" y1="669.77" x2="345.30" y2="669.77" stroke="#555" stroke-width="0.8" />
<line x1="58.60" y1="667.24" x2="59.80" y2="667.24" stroke="#555" stroke-width="0.8" />
<line x1="346.50" y1="667.24" x2="345.30" y2="667.24" stroke="#555" stroke-width="0.8" />
<line x1="58.60" y1="665.45" x2="59.80" y2="665.45" stroke="#555" stroke-width="0.8" />
<line x1="346.50" y1="665.45" x2="345.30" y2="665.45" stroke="#555" stroke-width="0.8" />
<line x1="58.60" y1="664.05" x2="59.80" y2="664.05" stroke="#555" stroke-width="0.8" />
<line x1="346.50" y1="664.05" x2="345.30" y2="664.05" stroke="#555" stroke-width="0.8" />
<line x1="58.60" y1="662.91" x2="59.80" y2="662.91" stroke="#555" stroke-width="0.8" />
<line x1="346.50" y1="662.91" x2="345.30" y2="662.91" stroke="#555" stroke-width="0.8" />
<line x1="58.60" y1="661.95" x2="59.80" y2="661.95" stroke="#555" stroke-width="0.8" />
<line x1="346.50" y1="661.95" x2="345.30" y2="661.95" stroke="#555" stroke-width="0.8" />
<line x1="58.60" y1="661.12" x2="59.80" y2="661.12" stroke="#555" stroke-width="0.8" />
<line x1="346.50" y1="661.12" x2="345.30" y2="661.12" stroke="#555" stroke-width="0.8" />
<line x1="58.60" y1="660.38" x2="59.80" y2="660.38" stroke="#555" stroke-width="0.8" />
<line x1="346.50" y1="660.38" x2="345.30" y2="660.38" stroke="#555" stroke-width="0.8" />
<line x1="58.60" y1="659.73" x2="61.60" y2="659.73" stroke="#555" stroke-width="0.8" />
<line x1="346.50" y1="659.73" x2="343.50" y2="659.73" stroke="#555" stroke-width="0.8" />
<line x1="58.60" y1="655.40" x2="59.80" y2="655.40" stroke="#555" stroke-width="0.8" />
<line x1="346.50" y1="655.40" x2="345.30" y2="655.40" stroke="#555" stroke-width="0.8" />
<line x1="58.60" y1="652.87" x2="59.80" y2="652.87" stroke="#555" stroke-width="0.8" />
<line x1="346.50" y1="652.87" x2="345.30" y2="652.87" stroke="#555" stroke-width="0.8" />
<line x1="58.60" y1="651.07" x2="59.80" y2="651.07" stroke="#555" stroke-width="0.8" />
<line x1="346.50" y1="651.07" x2="345.30" y2="651.07" stroke="#555" stroke-width="0.8" />
<line x1="58.60" y1="649.68" x2="59.80" y2="649.68" stroke="#555" stroke-width="0.8" />
<line x1="346.50" y1="649.68" x2="345.30" y2="649.68" stroke="#555" stroke-width="0.8" />
<line x1="58.60" y1="648.54" x2="59.80" y2="648.54" stroke="#555" stroke-width="0.8" />
<line x1="346.50" y1="648.54" x2="345.30" y2="648.54" stroke="#555" stroke-width="0.8" />
<line x1="58.60" y1="647.58" x2="59.80" y2="647.58" stroke="#555" stroke-width="0.8" />
<line x1="346.50" y1="647.58" x2="345.30" y2="647.58" stroke="#555" stroke-width="0.8" />
<line x1="58.60" y1="646.74" x2="59.80" y2="646.74" stroke="#555" stroke-width="0.8" />
<line x1="346.50" y1="646.74" x2="345.30" y2="646.74" stroke="#555" stroke-width="0.8" />
<line x1="58.60" y1="646.01" x2="59.80" y2="646.01" stroke="#555" stroke-width="0.8" />
<line x1="346.50" y1="646.01" x2="345.30" y2="646.01" stroke="#555" stroke-width="0.8" />
<line x1="58.60" y1="645.35" x2="60.80" y2="645.35" stroke="#555" stroke-width="0.8" />
<line x1="346.50" y1="645.35" x2="344.30" y2="645.35" stroke="#555" stroke-width="0.8" />
<line x1="58.60" y1="641.02" x2="59.80" y2="641.02" stroke="#555" stroke-width="0.8" />
<line x1="346.50" y1="641.02" x2="345.30" y2="641.02" stroke="#555" stroke-width="0.8" />
<line x1="58.60" y1="638.49" x2="59.80" y2="638.49" stroke="#555" stroke-width="0.8" />
<line x1="346.50" y1="638.49" x2="345.30" y2="638.49" stroke="#555" stroke-width="0.8" />
<line x1="58.60" y1="636.70" x2="59.80" y2="636.70" stroke="#555" stroke-width="0.8" />
<line x1="346.50" y1="636.70" x2="345.30" y2="636.70" stroke="#555" stroke-width="0.8" />
<line x1="58.60" y1="635.30" x2="59.80" y2="635.30" stroke="#555" stroke-width="0.8" />
<line x1="346.50" y1="635.30" x2="345.30" y2="635.30" stroke="#555" stroke-width="0.8" />
<line x1="58.60" y1="634.16" x2="59.80" y2="634.16" stroke="#555" stroke-width="0.8" />
<line x1="346.50" y1="634.16" x2="345.30" y2="634.16" stroke="#555" stroke-width="0.8" />
<line x1="58.60" y1="633.20" x2="59.80" y2="633.20" stroke="#555" stroke-width="0.8" />
<line x1="346.50" y1="633.20" x2="345.30" y2="633.20" stroke="#555" stroke-width="0.8" />
<line x1="58.60" y1="632.37" x2="59.80" y2="632.37" stroke="#555" stroke-width="0.8" />
<line x1="346.50" y1="632.37" x2="345.30" y2="632.37" stroke="#555" stroke-width="0.8" />
<line x1="58.60" y1="631.63" x2="59.80" y2="631.63" stroke="#555" stroke-width="0.8" />
<line x1="346.50" y1="631.63" x2="345.30" y2="631.63" stroke="#555" stroke-width="0.8" />
<line x1="58.60" y1="630.98" x2="61.60" y2="630.98" stroke="#555" stroke-width="0.8" />
<line x1="346.50" y1="630.98" x2="343.50" y2="630.98" stroke="#555" stroke-width="0.8" />
<line x1="58.60" y1="626.65" x2="59.80" y2="626.65" stroke="#555" stroke-width="0.8" />
<line x1="346.50" y1="626.65" x2="345.30" y2="626.65" stroke="#555" stroke-width="0.8" />
<line x1="58.60" y1="624.12" x2="59.80" y2="624.12" stroke="#555" stroke-width="0.8" />
<line x1="346.50" y1="624.12" x2="345.30" y2="624.12" stroke="#555" stroke-width="0.8" />
<line x1="58.60" y1="622.32" x2="59.80" y2="622.32" stroke="#555" stroke-width="0.8" />
<line x1="346.50" y1="622.32" x2="345.30" y2="622.32" stroke="#555" stroke-width="0.8" />
<line x1="58.60" y1="620.93" x2="59.80" y2="620.93" stroke="#555" stroke-width="0.8" />
<line x1="346.50" y1="620.93" x2="345.30" y2="620.93" stroke="#555" stroke-width="0.8" />
<line x1="58.60" y1="619.79" x2="59.80" y2="619.79" stroke="#555" stroke-width="0.8" />
<line x1="346.50" y1="619.79" x2="345.30" y2="619.79" stroke="#555" stroke-width="0.8" />
<line x1="58.60" y1="618.83" x2="59.80" y2="618.83" stroke="#555" stroke-width="0.8" />
<line x1="346.50" y1="618.83" x2="345.30" y2="618.83" stroke="#555" stroke-width="0.8" />
<line x1="58.60" y1="617.99" x2="59.80" y2="617.99" stroke="#555" stroke-width="0.8" />
<line x1="346.50" y1="617.99" x2="345.30" y2="617.99" stroke="#555" stroke-width="0.8" />
<line x1="58.60" y1="617.26" x2="59.80" y2="617.26" stroke="#555" stroke-width="0.8" />
<line x1="346.50" y1="617.26" x2="345.30" y2="617.26" stroke="#555" stroke-width="0.8" />
<line x1="58.60" y1="616.60" x2="60.80" y2="616.60" stroke="#555" stroke-width="0.8" />
<line x1="346.50" y1="616.60" x2="344.30" y2="616.60" stroke="#555" stroke-width="0.8" />
<line x1="58.60" y1="612.27" x2="59.80" y2="612.27" stroke="#555" stroke-width="0.8" />
<line x1="346.50" y1="612.27" x2="345.30" y2="612.27" stroke="#555" stroke-width="0.8" />
<line x1="58.60" y1="609.74" x2="59.80" y2="609.74" stroke="#555" stroke-width="0.8" />
<line x1="346.50" y1="609.74" x2="345.30" y2="609.74" stroke="#555" stroke-width="0.8" />
<line x1="58.60" y1="607.95" x2="59.80" y2="607.95" stroke="#555" stroke-width="0.8" />
<line x1="346.50" y1="607.95" x2="345.30" y2="607.95" stroke="#555" stroke-width="0.8" />
<line x1="58.60" y1="606.55" x2="59.80" y2="606.55" stroke="#555" stroke-width="0.8" />
<line x1="346.50" y1="606.55" x2="345.30" y2="606.55" stroke="#555" stroke-width="0.8" />
<line x1="58.60" y1="605.41" x2="59.80" y2="605.41" stroke="#555" stroke-width="0.8" />
<line x1="346.50" y1="605.41" x2="345.30" y2="605.41" stroke="#555" stroke-width="0.8" />
<line x1="58.60" y1="604.45" x2="59.80" y2="604.45" stroke="#555" stroke-width="0.8" />
<line x1="346.50" y1="604.45" x2="345.30" y2="604.45" stroke="#555" stroke-width="0.8" />
<line x1="58.60" y1="603.62" x2="59.80" y2="603.62" stroke="#555" stroke-width="0.8" />
<line x1="346.50" y1="603.62" x2="345.30" y2="603.62" stroke="#555" stroke-width="0.8" />
<line x1="58.60" y1="602.88" x2="59.80" y2="602.88" stroke="#555" stroke-width="0.8" />
<line x1="346.50" y1="602.88" x2="345.30" y2="602.88" stroke="#555" stroke-width="0.8" />
<line x1="58.60" y1="602.23" x2="61.60" y2="602.23" stroke="#555" stroke-width="0.8" />
<line x1="346.50" y1="602.23" x2="343.50" y2="602.23" stroke="#555" stroke-width="0.8" />
<line x1="58.60" y1="597.90" x2="59.80" y2="597.90" stroke="#555" stroke-width="0.8" />
<line x1="346.50" y1="597.90" x2="345.30" y2="597.90" stroke="#555" stroke-width="0.8" />
<line x1="58.60" y1="595.37" x2="59.80" y2="595.37" stroke="#555" stroke-width="0.8" />
<line x1="346.50" y1="595.37" x2="345.30" y2="595.37" stroke="#555" stroke-width="0.8" />
<line x1="58.60" y1="593.57" x2="59.80" y2="593.57" stroke="#555" stroke-width="0.8" />
<line x1="346.50" y1="593.57" x2="345.30" y2="593.57" stroke="#555" stroke-width="0.8" />
<line x1="58.60" y1="592.18" x2="59.80" y2="592.18" stroke="#555" stroke-width="0.8" />
<line x1="346.50" y1="592.18" x2="345.30" y2="592.18" stroke="#555" stroke-width="0.8" />
<line x1="58.60" y1="591.04" x2="59.80" y2="591.04" stroke="#555" stroke-width="0.8" />
<line x1="346.50" y1="591.04" x2="345.30" y2="591.04" stroke="#555" stroke-width="0.8" />
<line x1="58.60" y1="590.08" x2="59.80" y2="590.08" stroke="#555" stroke-width="0.8" />
<line x1="346.50" y1="590.08" x2="345.30" y2="590.08" stroke="#555" stroke-width="0.8" />
<line x1="58.60" y1="589.24" x2="59.80" y2="589.24" stroke="#555" stroke-width="0.8" />
<line x1="346.50" y1="589.24" x2="345.30" y2="589.24" stroke="#555" stroke-width="0.8" />
<line x1="58.60" y1="588.51" x2="59.80" y2="588.51" stroke="#555" stroke-width="0.8" />
<line x1="346.50" y1="588.51" x2="345.30" y2="588.51" stroke="#555" stroke-width="0.8" />
<line x1="58.60" y1="587.85" x2="60.80" y2="587.85" stroke="#555" stroke-width="0.8" />
<line x1="346.50" y1="587.85" x2="344.30" y2="587.85" stroke="#555" stroke-width="0.8" />
<line x1="58.60" y1="583.52" x2="59.80" y2="583.52" stroke="#555" stroke-width="0.8" />
<line x1="346.50" y1="583.52" x2="345.30" y2="583.52" stroke="#555" stroke-width="0.8" />
<line x1="58.60" y1="580.99" x2="59.80" y2="580.99" stroke="#555" stroke-width="0.8" />
<line x1="346.50" y1="580.99" x2="345.30" y2="580.99" stroke="#555" stroke-width="0.8" />
<line x1="58.60" y1="579.20" x2="59.80" y2="579.20" stroke="#555" stroke-width="0.8" />
<line x1="346.50" y1="579.20" x2="345.30" y2="579.20" stroke="#555" stroke-width="0.8" />
<line x1="58.60" y1="577.80" x2="59.80" y2="577.80" stroke="#555" stroke-width="0.8" />
<line x1="346.50" y1="577.80" x2="345.30" y2="577.80" stroke="#555" stroke-width="0.8" />
<line x1="58.60" y1="576.66" x2="59.80" y2="576.66" stroke="#555" stroke-width="0.8" />
<line x1="346.50" y1="576.66" x2="345.30" y2="576.66" stroke="#555" stroke-width="0.8" />
<line x1="58.60" y1="575.70" x2="59.80" y2="575.70" stroke="#555" stroke-width="0.8" />
<line x1="346.50" y1="575.70" x2="345.30" y2="575.70" stroke="#555" stroke-width="0.8" />
<line x1="58.60" y1="574.87" x2="59.80" y2="574.87" stroke="#555" stroke-width="0.8" />
<line x1="346.50" y1="574.87" x2="345.30" y2="574.87" stroke="#555" stroke-width="0.8" />
<line x1="58.60" y1="574.13" x2="59.80" y2="574.13" stroke="#555" stroke-width="0.8" />
<line x1="346.50" y1="574.13" x2="345.30" y2="574.13" stroke="#555" stroke-width="0.8" />
<line x1="58.60" y1="573.48" x2="61.60" y2="573.48" stroke="#555" stroke-width="0.8" />
<line x1="346.50" y1="573.48" x2="343.50" y2="573.48" stroke="#555" stroke-width="0.8" />
<line x1="58.60" y1="569.15" x2="59.80" y2="569.15" stroke="#555" stroke-width="0.8" />
<line x1="346.50" y1="569.15" x2="345.30" y2="569.15" stroke="#555" stroke-width="0.8" />
<line x1="58.60" y1="566.62" x2="59.80" y2="566.62" stroke="#555" stroke-width="0.8" />
<line x1="346.50" y1="566.62" x2="345.30" y2="566.62" stroke="#555" stroke-width="0.8" />
<line x1="58.60" y1="564.82" x2="59.80" y2="564.82" stroke="#555" stroke-width="0.8" />
<line x1="346.50" y1="564.82" x2="345.30" y2="564.82" stroke="#555" stroke-width="0.8" />
<line x1="58.60" y1="563.43" x2="59.80" y2="563.43" stroke="#555" stroke-width="0.8" />
<line x1="346.50" y1="563.43" x2="345.30" y2="563.43" stroke="#555" stroke-width="0.8" />
<line x1="58.60" y1="562.29" x2="59.80" y2="562.29" stroke="#555" stroke-width="0.8" />
<line x1="346.50" y1="562.29" x2="345.30" y2="562.29" stroke="#555" stroke-width="0.8" />
<line x1="58.60" y1="561.33" x2="59.80" y2="561.33" stroke="#555" stroke-width="0.8" />
<line x1="346.50" y1="561.33" x2="345.30" y2="561.33" stroke="#555" stroke-width="0.8" />
<line x1="58.60" y1="560.49" x2="59.80" y2="560.49" stroke="#555" stroke-width="0.8" />
<line x1="346.50" y1="560.49" x2="345.30" y2="560.49" stroke="#555" stroke-width="0.8" />
<line x1="58.60" y1="559.76" x2="59.80" y2="559.76" stroke="#555" stroke-width="0.8" />
<line x1="346.50" y1="559.76" x2="345.30" y2="559.76" stroke="#555" stroke-width="0.8" />
<line x1="58.60" y1="559.10" x2="60.80" y2="559.10" stroke="#555" stroke-width="0.8" />
<line x1="346.50" y1="559.10" x2="344.30" y2="559.10" stroke="#555" stroke-width="0.8" />
<line x1="58.60" y1="554.77" x2="59.80" y2="554.77" stroke="#555" stroke-width="0.8" />
<line x1="346.50" y1="554.77" x2="345.30" y2="554.77" stroke="#555" stroke-width="0.8" />
<line x1="58.60" y1="552.24" x2="59.80" y2="552.24" stroke="#555" stroke-width="0.8" />
<line x1="346.50" y1="552.24" x2="345.30" y2="552.24" stroke="#555" stroke-width="0.8" />
<line x1="58.60" y1="550.45" x2="59.80" y2="550.45" stroke="#555" stroke-width="0.8" />
<line x1="346.50" y1="550.45" x2="345.30" y2="550.45" stroke="#555" stroke-width="0.8" />
<line x1="58.60" y1="549.05" x2="59.80" y2="549.05" stroke="#555" stroke-width="0.8" />
<line x1="346.50" y1="549.05" x2="345.30" y2="549.05" stroke="#555" stroke-width="0.8" />
<line x1="58.60" y1="547.91" x2="59.80" y2="547.91" stroke="#555" stroke-width="0.8" />
<line x1="346.50" y1="547.91" x2="345.30" y2="547.91" stroke="#555" stroke-width="0.8" />
<line x1="58.60" y1="546.95" x2="59.80" y2="546.95" stroke="#555" stroke-width="0.8" />
<line x1="346.50" y1="546.95" x2="345.30" y2="546.95" stroke="#555" stroke-width="0.8" />
<line x1="58.60" y1="546.12" x2="59.80" y2="546.12" stroke="#555" stroke-width="0.8" />
<line x1="346.50" y1="546.12" x2="345.30" y2="546.12" stroke="#555" stroke-width="0.8" />
<line x1="58.60" y1="545.38" x2="59.80" y2="545.38" stroke="#555" stroke-width="0.8" />
<line x1="346.50" y1="545.38" x2="345.30" y2="545.38" stroke="#555" stroke-width="0.8" />
<line x1="58.60" y1="544.73" x2="61.60" y2="544.73" stroke="#555" stroke-width="0.8" />
<line x1="346.50" y1="544.73" x2="343.50" y2="544.73" stroke="#555" stroke-width="0.8" />
<line x1="58.60" y1="540.40" x2="59.80" y2="540.40" stroke="#555" stroke-width="0.8" />
<line x1="346.50" y1="540.40" x2="345.30" y2="540.40" stroke="#555" stroke-width="0.8" />
<line x1="58.60" y1="537.87" x2="59.80" y2="537.87" stroke="#555" stroke-width="0.8" />
<line x1="346.50" y1="537.87" x2="345.30" y2="537.87" stroke="#555" stroke-width="0.8" />
<line x1="58.60" y1="536.07" x2="59.80" y2="536.07" stroke="#555" stroke-width="0.8" />
<line x1="346.50" y1="536.07" x2="345.30" y2="536.07" stroke="#555" stroke-width="0.8" />
<line x1="58.60" y1="534.68" x2="59.80" y2="534.68" stroke="#555" stroke-width="0.8" />
<line x1="346.50" y1="534.68" x2="345.30" y2="534.68" stroke="#555" stroke-width="0.8" />
<line x1="58.60" y1="533.54" x2="59.80" y2="533.54" stroke="#555" stroke-width="0.8" />
<line x1="346.50" y1="533.54" x2="345.30" y2="533.54" stroke="#555" stroke-width="0.8" />
<line x1="58.60" y1="532.58" x2="59.80" y2="532.58" stroke="#555" stroke-width="0.8" />
<line x1="346.50" y1="532.58" x2="345.30" y2="532.58" stroke="#555" stroke-width="0.8" />
<line x1="58.60" y1="531.74" x2="59.80" y2="531.74" stroke="#555" stroke-width="0.8" />
<line x1="346.50" y1="531.74" x2="345.30" y2="531.74" stroke="#555" stroke-width="0.8" />
<line x1="58.60" y1="531.01" x2="59.80" y2="531.01" stroke="#555" stroke-width="0.8" />
<line x1="346.50" y1="531.01" x2="345.30" y2="531.01" stroke="#555" stroke-width="0.8" />
<line x1="58.60" y1="530.35" x2="60.80" y2="530.35" stroke="#555" stroke-width="0.8" />
<line x1="346.50" y1="530.35" x2="344.30" y2="530.35" stroke="#555" stroke-width="0.8" />
<line x1="58.60" y1="526.02" x2="59.80" y2="526.02" stroke="#555" stroke-width="0.8" />
<line x1="346.50" y1="526.02" x2="345.30" y2="526.02" stroke="#555" stroke-width="0.8" />
<line x1="58.60" y1="523.49" x2="59.80" y2="523.49" stroke="#555" stroke-width="0.8" />
<line x1="346.50" y1="523.49" x2="345.30" y2="523.49" stroke="#555" stroke-width="0.8" />
<line x1="58.60" y1="521.70" x2="59.80" y2="521.70" stroke="#555" stroke-width="0.8" />
<line x1="346.50" y1="521.70" x2="345.30" y2="521.70" stroke="#555" stroke-width="0.8" />
<line x1="58.60" y1="520.30" x2="59.80" y2="520.30" stroke="#555" stroke-width="0.8" />
<line x1="346.50" y1="520.30" x2="345.30" y2="520.30" stroke="#555" stroke-width="0.8" />
<line x1="58.60" y1="519.16" x2="59.80" y2="519.16" stroke="#555" stroke-width="0.8" />
<line x1="346.50" y1="519.16" x2="345.30" y2="519.16" stroke="#555" stroke-width="0.8" />
<line x1="58.60" y1="518.20" x2="59.80" y2="518.20" stroke="#555" stroke-width="0.8" />
<line x1="346.50" y1="518.20" x2="345.30" y2="518.20" stroke="#555" stroke-width="0.8" />
<line x1="58.60" y1="517.37" x2="59.80" y2="517.37" stroke="#555" stroke-width="0.8" />
<line x1="346.50" y1="517.37" x2="345.30" y2="517.37" stroke="#555" stroke-width="0.8" />
<line x1="58.60" y1="516.63" x2="59.80" y2="516.63" stroke="#555" stroke-width="0.8" />
<line x1="346.50" y1="516.63" x2="345.30" y2="516.63" stroke="#555" stroke-width="0.8" />
<line x1="58.60" y1="515.98" x2="61.60" y2="515.98" stroke="#555" stroke-width="0.8" />
<line x1="346.50" y1="515.98" x2="343.50" y2="515.98" stroke="#555" stroke-width="0.8" />
<path d="M63.39,570.64 L64.78,570.93 L66.17,571.22 L67.56,571.51 L68.95,571.80 L70.34,572.09 L71.73,572.38 L73.12,572.67 L74.51,572.96 L75.90,573.26 L77.29,573.55 L78.68,573.84 L80.07,574.13 L81.45,574.43 L82.84,574.72 L84.23,575.01 L85.62,575.31 L87.01,575.60 L88.40,575.89 L89.79,576.19 L91.18,576.48 L92.57,576.78 L93.96,577.07 L95.35,577.37 L96.74,577.67 L98.13,577.96 L99.52,578.26 L100.91,578.56 L102.30,578.85 L103.69,579.15 L105.08,579.45 L106.47,579.75 L107.86,580.05 L109.25,580.35 L110.64,580.65 L112.03,580.96 L113.42,581.26 L114.81,581.56 L116.19,581.87 L117.58,582.17 L118.97,582.48 L120.36,582.79 L121.75,583.10 L123.14,583.40 L124.53,583.71 L125.92,584.03 L127.31,584.34 L128.70,584.65 L130.09,584.97 L131.48,585.28 L132.87,585.60 L134.26,585.92 L135.65,586.24 L137.04,586.57 L138.43,586.89 L139.82,587.22 L141.21,587.55 L142.60,587.88 L143.99,588.21 L145.38,588.55 L146.77,588.89 L148.16,589.23 L149.55,589.57 L150.93,589.92 L152.32,590.27 L153.71,590.62 L155.10,590.98 L156.49,591.34 L157.88,591.70 L159.27,592.07 L160.66,592.44 L162.05,592.82 L163.44,593.20 L164.83,593.59 L166.22,593.98 L167.61,594.38 L169.00,594.78 L170.39,595.19 L171.78,595.61 L173.17,596.03 L174.56,596.46 L175.95,596.89 L177.34,597.34 L178.73,597.79 L180.12,598.25 L181.51,598.72 L182.90,599.20 L184.29,599.69 L185.67,600.19 L187.06,600.69 L188.45,601.21 L189.84,601.74 L191.23,602.28 L192.62,602.83 L194.01,603.39 L195.40,603.96 L196.79,604.54 L198.18,605.14 L199.57,605.74 L200.96,606.36 L202.35,606.99 L203.74,607.63 L205.13,608.28 L206.52,608.94 L207.91,609.62 L209.30,610.30 L210.69,610.99 L212.08,611.70 L213.47,612.41 L214.86,613.14 L216.25,613.87 L217.64,614.61 L219.03,615.36 L220.41,616.11 L221.80,616.88 L223.19,617.65 L224.58,618.43 L225.97,619.21 L227.36,620.00 L228.75,620.79 L230.14,621.59 L231.53,622.40 L232.92,623.21 L234.31,624.02 L235.70,624.84 L237.09,625.66 L238.48,626.49 L239.87,627.31 L241.26,628.14 L242.65,628.98 L244.04,629.81 L245.43,630.65 L246.82,631.49 L248.21,632.33 L249.60,633.18 L250.99,634.02 L252.38,634.87 L253.77,635.72 L255.15,636.57 L256.54,637.42 L257.93,638.27 L259.32,639.12 L260.71,639.97 L262.10,640.83 L263.49,641.68 L264.88,642.54 L266.27,643.39 L267.66,644.25 L269.05,645.11 L270.44,645.96 L271.83,646.82 L273.22,647.68 L274.61,648.54 L276.00,649.40 L277.39,650.26 L278.78,651.12 L280.17,651.98 L281.56,652.84 L282.95,653.70 L284.34,654.56 L285.73,655.42 L287.12,656.28 L288.51,657.14 L289.89,658.00 L291.28,658.86 L292.67,659.73 L294.06,660.59 L295.45,661.45 L296.84,662.31 L298.23,663.17 L299.62,664.03 L301.01,664.90 L302.40,665.76 L303.79,666.62 L305.18,667.48 L306.57,668.34 L307.96,669.21 L309.35,670.07 L310.74,670.93 L312.13,671.79 L313.52,672.65 L314.91,673.52 L316.30,674.38 L317.69,675.24 L319.08,676.10 L320.47,676.97 L321.86,677.83 L323.25,678.69 L324.63,679.55 L326.02,680.41 L327.41,681.28 L328.80,682.14 L330.19,683.00 L331.58,683.86 L332.97,684.73 L334.36,685.59 L335.75,686.45 L337.14,687.31 L338.53,688.18 L339.92,689.04 L341.31,689.90" fill="none" stroke="#ff1a1a" stroke-width="2.0" stroke-linejoin="round" stroke-linecap="round" />
<line x1="63.39" y1="517.40" x2="341.31" y2="689.90" stroke="#0000ff" stroke-width="2.0" stroke-dasharray="8.3,4.9"/>
<rect x="58.6" y="514.0" width="287.9" height="178.79999999999995" fill="none" stroke="#5a5a5a" stroke-width="1.1"/>
<text transform="translate(56.30,548.80) scale(1.14,1)" font-size="12.0" text-anchor="end">1000</text>
<text transform="translate(56.30,577.00) scale(1.14,1)" font-size="12.0" text-anchor="end">10</text>
<text transform="translate(56.30,605.40) scale(1.14,1)" font-size="12.0" text-anchor="end">0.1</text>
<text transform="translate(56.30,634.20) scale(1.14,1)" font-size="12.0" text-anchor="end">0.001</text>
<text transform="translate(49.30,520.60) scale(1.06,1)" font-size="12.0" text-anchor="end">10</text>
<text transform="translate(56.30,514.60) scale(1.15,1)" font-size="8.2" text-anchor="end">5</text>
<text transform="translate(43.40,691.60) scale(1.14,1)" font-size="12.0" text-anchor="end">10</text>
<text transform="translate(56.40,686.20) scale(1.25,1)" font-size="8.2" text-anchor="end">&#8722;7</text>
<text transform="translate(43.40,663.60) scale(1.14,1)" font-size="12.0" text-anchor="end">10</text>
<text transform="translate(56.40,658.20) scale(1.25,1)" font-size="8.2" text-anchor="end">&#8722;5</text>
<text transform="translate(63.39,706.20) scale(1.14,1)" font-size="12.0" text-anchor="middle">0.01</text>
<text transform="translate(132.87,706.20) scale(1.14,1)" font-size="12.0" text-anchor="middle">0.1</text>
<text transform="translate(202.35,706.20) scale(1.14,1)" font-size="12.0" text-anchor="middle">1</text>
<text transform="translate(271.83,706.20) scale(1.14,1)" font-size="12.0" text-anchor="middle">10</text>
<text transform="translate(341.31,706.20) scale(1.14,1)" font-size="12.0" text-anchor="middle">100</text>
<text x="66.50" y="551.00" font-size="16.4" text-anchor="start" >(c)</text>
<text x="191" y="725" font-size="13.5" font-style="italic" letter-spacing="1.6">d/c</text>
<text transform="translate(15.3,0) rotate(-90) scale(1,1.08)" font-size="14" font-style="italic"><tspan x="-654.7 -643.9 -636.5 -630.3 -625.9 -618.6 -610.2 -604.0">Energy/(</tspan><tspan x="-599.6">&#956;</tspan><tspan x="-591.8" dy="1.5" font-size="8.5" font-style="normal">0</tspan><tspan x="-585.0" dy="-1.5">q</tspan><tspan x="-575.4" dy="-7.6" font-size="8.5" font-style="normal">2</tspan><tspan x="-569.9 -565.3 -559.0" dy="7.6">)/c</tspan></text></svg>
</body></html>
